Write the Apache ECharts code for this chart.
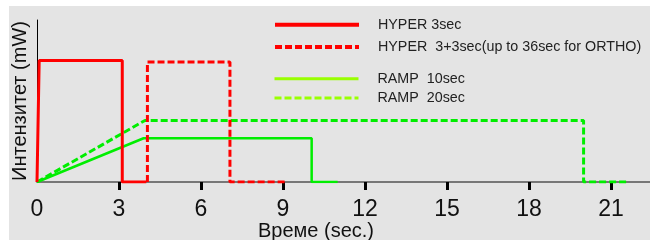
<!DOCTYPE html>
<html>
<head>
<meta charset="utf-8">
<script src="https://cdn.jsdelivr.net/npm/echarts@6/dist/echarts.min.js"></script>
<style>
  html, body { margin: 0; padding: 0; background: #fff; }
  #bg { position: absolute; left: 9px; top: 6px; width: 641px; height: 234px; background: #e4e4e4; }
  #map_chart { position: absolute; left: 0; top: 0; width: 650px; height: 240px; }
</style>
</head>
<body>
<div id="bg"></div>
<div id="map_chart"></div>
<script>
// data: [time (sec), intensity]
var hyper3 = [[0, 0], [0.08, 75], [3.12, 75], [3.12, 0], [4.0, 0]];
var hyper33 = [[4.04, 0], [4.04, 74], [7.06, 74], [7.06, 0], [9.1, 0]];
var ramp10 = [[0, 0], [3.9, 27], [10.05, 27], [10.05, 0], [11.0, 0]];
var ramp20 = [[0, 0], [3.95, 38], [20.0, 38], [20.0, 0], [21.6, 0]];
var labelTicks = [0, 3, 6, 9, 12, 15, 18, 21];
var markTicks = [3, 6, 9, 12, 15, 18, 21];

var names = ['HYPER 3sec', 'HYPER  3+3sec(up to 36sec for ORTHO)', 'RAMP  10sec', 'RAMP  20sec'];

var Container = document.getElementById('map_chart');
var myChart = echarts.init(Container);

var font = 'Liberation Sans, Arial, sans-serif';
// legend symbol is hidden, only the line sample is kept
var noSymbol = { opacity : 0, color : 'transparent', borderWidth : 0 };

var option = {
	animation : false,
	textStyle : { fontFamily : font },
	grid : { left : 37, right : 0, top : 20, bottom : 58, containLabel : false, outerBoundsMode : 'none' },
	legend : [ {
		orient : 'vertical',
		left : 273,
		top : 17.7,
		padding : 0,
		itemWidth : 84,
		itemHeight : 14,
		itemGap : 8.3,
		itemStyle : noSymbol,
		lineStyle : { width : 4 },
		textStyle : { fontSize : 14.3, color : '#222', fontFamily : font, padding : [ 0, 0, 0, 14 ] },
		data : [ names[0], names[1] ]
	}, {
		orient : 'vertical',
		left : 273,
		top : 71.7,
		padding : 0,
		itemWidth : 84,
		itemHeight : 14,
		itemGap : 5.3,
		itemStyle : noSymbol,
		lineStyle : { width : 3 },
		textStyle : { fontSize : 14.3, color : '#222', fontFamily : font, padding : [ 0, 0, 0, 14 ] },
		data : [ {
			name : names[2],
			lineStyle : { color : '#99ff00' },
			textStyle : { padding : [ 0, 0, 12, 14 ] }
		}, {
			name : names[3],
			lineStyle : { color : '#99ff00' },
			textStyle : { padding : [ 0, 0, 4, 14 ] }
		} ]
	} ],
	xAxis : {
		type : 'value',
		min : 0,
		max : 22.43,
		name : 'Време (sec.)',
		nameLocation : 'middle',
		nameGap : 39,
		nameMoveOverlap : false,
		nameTextStyle : { fontSize : 20, color : '#111', fontFamily : font, padding : [ 0, 55, 0, 0 ] },
		axisLine : { lineStyle : { color : '#777', width : 2 } },
		axisTick : { show : true, customValues : markTicks, length : 8, lineStyle : { color : '#000', width : 3 } },
		axisLabel : { customValues : labelTicks, fontSize : 23, color : '#111', margin : 16, fontFamily : font },
		splitLine : { show : false }
	},
	yAxis : {
		type : 'value',
		min : 0,
		max : 100,
		name : 'Интензитет (mW)',
		nameLocation : 'middle',
		nameGap : 7,
		nameMoveOverlap : false,
		nameTextStyle : { fontSize : 20, color : '#111', fontFamily : font },
		axisLine : { show : true, lineStyle : { color : '#000', width : 1 } },
		axisTick : { show : false },
		axisLabel : { show : false },
		splitLine : { show : false }
	},
	series : [ {
		name : names[3],
		type : 'line',
		data : ramp20,
		symbol : 'none',
		lineStyle : { color : '#00ee00', width : 3, type : [ 7, 3 ] },
		itemStyle : { color : '#00ee00' }
	}, {
		name : names[2],
		type : 'line',
		data : ramp10,
		symbol : 'none',
		lineStyle : { color : '#00ee00', width : 2.5 },
		itemStyle : { color : '#00ee00' }
	}, {
		name : names[1],
		type : 'line',
		data : hyper33,
		symbol : 'none',
		lineStyle : { color : '#ff0000', width : 3, type : [ 7, 3 ] },
		itemStyle : { color : '#ff0000' }
	}, {
		name : names[0],
		type : 'line',
		data : hyper3,
		symbol : 'none',
		lineStyle : { color : '#ff0000', width : 3 },
		itemStyle : { color : '#ff0000' }
	} ]
};
myChart.setOption(option);
</script>
</body>
</html>
